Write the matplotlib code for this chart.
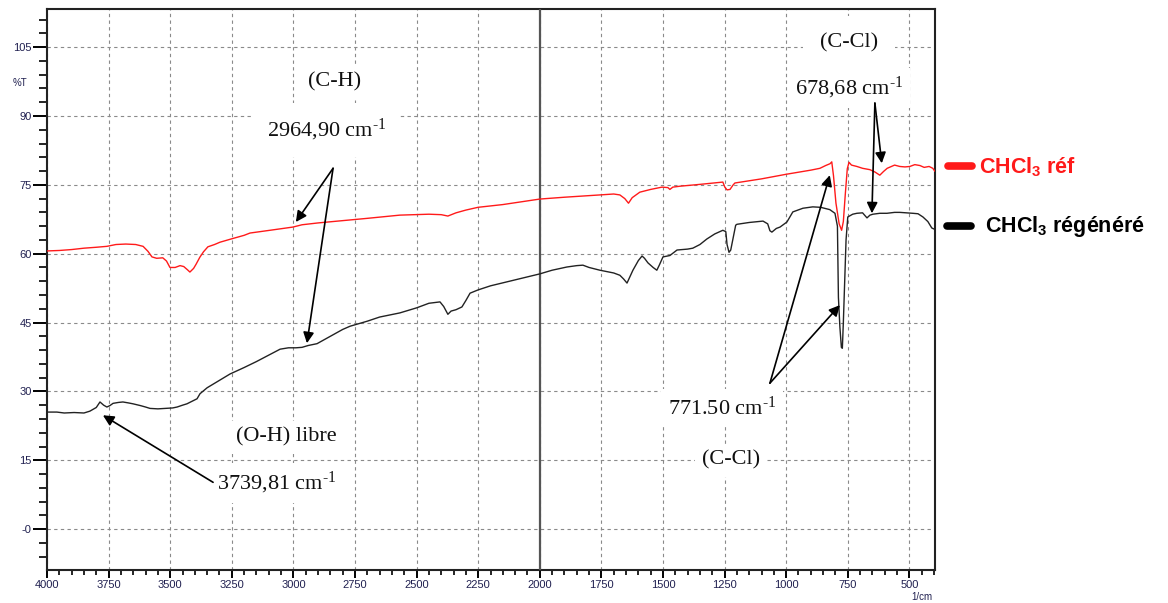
import matplotlib
matplotlib.use("Agg")
import matplotlib.pyplot as plt
from matplotlib.ticker import MultipleLocator, FixedLocator

plt.rcParams['mathtext.fontset'] = 'custom'
plt.rcParams['mathtext.rm'] = 'Liberation Serif'
plt.rcParams['mathtext.it'] = 'Liberation Serif'
plt.rcParams['mathtext.sf'] = 'Liberation Sans:bold'

# ---- data: CHCl3 reference (red) ----
ref_wn = [4000, 3950, 3900, 3850, 3800, 3757, 3720, 3680, 3640, 3610, 3590, 3574,
          3555, 3530, 3515, 3501, 3480, 3460, 3445, 3430, 3420, 3405, 3395, 3380,
          3365, 3347, 3320, 3298, 3253, 3200, 3176, 3095, 3002, 2965, 2900, 2800,
          2700, 2568, 2450, 2400, 2373, 2340, 2300, 2251, 2150, 2000, 1900, 1756,
          1700, 1675, 1655, 1640, 1625, 1594, 1550, 1504, 1480, 1472, 1460, 1431,
          1350, 1257, 1249, 1240, 1228, 1215, 1208, 1100, 1000, 900, 863, 840,
          822, 815, 808, 798, 785, 775, 768, 760, 752, 745, 735, 713, 690, 660,
          640, 620, 605, 590, 560, 539, 518, 498, 478, 457, 440, 420, 405, 397]
ref_T = [60.6, 60.7, 60.9, 61.2, 61.4, 61.6, 62.0, 62.1, 62.0, 61.6, 60.5, 59.3,
         59.0, 59.1, 58.4, 57.0, 57.0, 57.4, 57.2, 56.5, 56.0, 56.8, 57.7, 59.2,
         60.4, 61.5, 62.0, 62.5, 63.2, 64.0, 64.5, 65.1, 65.8, 66.3, 66.7, 67.2,
         67.7, 68.4, 68.6, 68.5, 68.2, 68.9, 69.5, 70.1, 70.7, 71.9, 72.3, 72.8,
         73.0, 72.8, 72.0, 71.0, 72.2, 73.4, 74.0, 74.5, 74.4, 74.0, 74.5, 74.7,
         75.1, 75.6, 74.5, 73.9, 74.0, 75.0, 75.4, 76.3, 77.3, 78.2, 78.6, 79.2,
         79.6, 80.0, 77.0, 71.0, 66.5, 65.1, 67.0, 73.0, 78.5, 79.9, 79.3, 79.0,
         78.6, 78.3, 77.8, 77.1, 77.9, 78.6, 79.3, 79.0, 78.9, 79.0, 79.4, 79.2,
         78.8, 79.0, 78.6, 78.0]

# ---- data: CHCl3 regenerated (black) ----
reg_wn = [4000, 3960, 3930, 3890, 3850, 3826, 3800, 3785, 3770, 3757,
          3745, 3732, 3710, 3692, 3670, 3651, 3620, 3600, 3582, 3550,
          3520, 3490, 3472, 3450, 3432, 3410, 3391, 3379, 3350, 3300,
          3257, 3200, 3150, 3107, 3054, 3020, 2990, 2965, 2940, 2904,
          2850, 2800, 2770, 2700, 2650, 2568, 2500, 2450, 2405, 2390,
          2373, 2360, 2340, 2316, 2300, 2283, 2251, 2200, 2100, 2000,
          1950, 1890, 1850, 1825, 1800, 1756, 1700, 1675, 1660, 1646,
          1634, 1622, 1600, 1585, 1575, 1561, 1540, 1525, 1515, 1500,
          1472, 1443, 1400, 1379, 1350, 1322, 1290, 1257, 1245, 1240,
          1232, 1225, 1215, 1205, 1200, 1150, 1094, 1075, 1066, 1058,
          1040, 1025, 997, 973, 932, 892, 860, 823, 802, 792,
          788, 782, 776, 772, 768, 762, 757, 750, 730, 713,
          690, 672, 660, 648, 620, 591, 560, 539, 510, 486,
          465, 445, 425, 409, 397]
reg_T = [25.5, 25.5, 25.3, 25.4, 25.3, 25.7, 26.5, 27.7, 27.0, 26.6,
         26.9, 27.4, 27.6, 27.7, 27.5, 27.3, 26.9, 26.6, 26.3, 26.2,
         26.3, 26.4, 26.6, 27.0, 27.3, 27.9, 28.4, 29.5, 30.8, 32.4,
         33.8, 35.2, 36.5, 37.7, 39.2, 39.5, 39.5, 39.6, 40.0, 40.4,
         42.0, 43.5, 44.2, 45.3, 46.2, 47.1, 48.2, 49.2, 49.5, 48.5,
         46.8, 47.5, 47.8, 48.4, 49.8, 51.4, 52.1, 53.0, 54.3, 55.6,
         56.4, 57.1, 57.4, 57.5, 57.0, 56.4, 55.8, 55.3, 54.5, 53.6,
         55.0, 56.4, 58.5, 59.5, 59.0, 58.0, 57.0, 56.4, 57.5, 59.3,
         59.6, 60.8, 61.0, 61.2, 62.0, 63.2, 64.3, 65.1, 64.8, 62.0,
         60.3, 60.8, 63.5, 66.2, 66.4, 66.8, 67.1, 66.5, 65.0, 64.7,
         65.5, 65.8, 66.9, 69.1, 69.9, 70.2, 70.1, 69.6, 68.8, 66.0,
         50.5, 44.0, 39.6, 39.4, 45.0, 55.0, 63.0, 68.0, 68.6, 68.8,
         68.9, 67.8, 68.4, 68.6, 68.8, 68.8, 69.0, 69.0, 68.9, 68.8,
         68.7, 68.0, 67.0, 65.6, 65.3]

ytick_vals = [0, 15, 30, 45, 60, 75, 90, 105]
ytick_labels = ["-0", "15", "30", "45", "60", "75", "90", "105"]
xtick_vals = [4000, 3750, 3500, 3250, 3000, 2750, 2500, 2250, 2000, 1750, 1500, 1250, 1000, 750, 500]
xtick_labels = [str(v) for v in xtick_vals]

legend_labels = [r"CHCl$_{\mathsf{3}}$ réf", r"CHCl$_{\mathsf{3}}$ régénéré"]
legend_colors = ["#ff1a1a", "#000000"]

fig = plt.figure(figsize=(11.68, 6.03), dpi=100)
ax = fig.add_axes([47/1168, 1-570/603, 888/1168, 561/603])

ax.set_xlim(4000, 396)
ax.set_ylim(-8.9, 113.3)

ax.plot(ref_wn, ref_T, color="#ff1a1a", lw=1.0, zorder=5)
ax.plot(reg_wn, reg_T, color="#222222", lw=1.0, zorder=5)

ax.axvline(2000, color="#555555", lw=1.6, zorder=4)

ax.xaxis.set_major_locator(FixedLocator(xtick_vals))
ax.set_xticklabels(xtick_labels)
ax.xaxis.set_minor_locator(MultipleLocator(50))
ax.yaxis.set_major_locator(FixedLocator(ytick_vals))
ax.set_yticklabels(ytick_labels)
ax.yaxis.set_minor_locator(MultipleLocator(3))

ax.grid(True, which="major", linestyle=(0, (3, 3)), color="#8a8a8a", lw=0.8, zorder=1)
ax.tick_params(axis="y", which="major", length=10, width=1.4, direction="out",
               labelsize=8, labelcolor="#202050", pad=1)
ax.tick_params(axis="y", which="minor", length=5.5, width=1.2, direction="out")
ax.tick_params(axis="x", which="major", length=5.5, width=1.4, direction="out",
               labelsize=8, labelcolor="#202050", pad=2)
ax.tick_params(axis="x", which="minor", length=3.5, width=1.2, direction="out")
for lab in ax.get_xticklabels() + ax.get_yticklabels():
    lab.set_fontfamily("Liberation Sans")
for s in ax.spines.values():
    s.set_linewidth(1.5)
    s.set_color("#222222")

fig.text(20/1168, 1-83/603, "%T", fontsize=7, color="#202050", ha="center", va="center",
         family="Liberation Sans")
fig.text(922/1168, 1-597/603, "1/cm", fontsize=7, color="#202050", ha="center", va="center",
         family="Liberation Sans")

serif = dict(family="Liberation Serif", fontsize=16, color="#111111", zorder=3)
wbox = dict(facecolor="white", edgecolor="none", pad=5)
sup = r"$^{\text{-1}}$"

ax.text(2831, 97.4, "(C-H)", ha="center", va="center", bbox=wbox, **serif)
ax.text(2864, 86.9, "2964,90 cm" + sup, ha="center", va="center",
        bbox=dict(facecolor="white", edgecolor="none", pad=10), **serif)
ax.text(3030, 20.0, "(O-H) libre", ha="center", va="center", bbox=wbox, **serif)
ax.text(3067, 10.0, "3739,81 cm" + sup, ha="center", va="center", bbox=wbox, **serif)
ax.text(1261, 26.4, "771.50 cm" + sup, ha="center", va="center", bbox=wbox, **serif)
ax.text(1224, 15.0, "(C-Cl)", ha="center", va="center", bbox=wbox, **serif)
ax.text(745, 106.0, "(C-Cl)", ha="center", va="center",
        bbox=dict(facecolor="white", edgecolor="none", pad=12), **serif)
ax.text(745, 96.0, "678,68 cm" + sup, ha="center", va="center", bbox=wbox, **serif)

arrow = dict(arrowstyle="-|>", color="black", lw=1.2, mutation_scale=16,
             shrinkA=0, shrinkB=0)
# (C-H) arrows
ax.annotate("", xy=(2990, 66.9), xytext=(2839, 78.6), arrowprops=arrow, zorder=6)
ax.annotate("", xy=(2945, 40.5), xytext=(2839, 78.6), arrowprops=arrow, zorder=6)
# O-H arrow
ax.annotate("", xy=(3773, 24.8), xytext=(3326, 10.2), arrowprops=arrow, zorder=6)
# 771 arrows
ax.annotate("", xy=(823, 77.1), xytext=(1066, 31.8), arrowprops=arrow, zorder=6)
ax.annotate("", xy=(782, 48.8), xytext=(1066, 31.8), arrowprops=arrow, zorder=6)
# 678 arrows
ax.annotate("", xy=(612, 79.7), xytext=(640, 92.8), arrowprops=arrow, zorder=6)
ax.annotate("", xy=(652, 68.8), xytext=(640, 92.8), arrowprops=arrow, zorder=6)

# legend outside axes
leg_y = [1-166/603, 1-226/603]
leg_x0 = [948/1168, 947/1168]
leg_tx = [979/1168, 985/1168]
for lab, col, y, x0, tx in zip(legend_labels, legend_colors, leg_y, leg_x0, leg_tx):
    fig.lines.append(plt.Line2D([x0, x0 + 24/1168], [y, y], transform=fig.transFigure,
                                color=col, lw=5.5, solid_capstyle="round"))
    fig.text(tx, y, lab, color=col, fontsize=15.5, fontweight="bold", va="center", ha="left",
             family="Liberation Sans")

fig.savefig("out.png", dpi=100)
